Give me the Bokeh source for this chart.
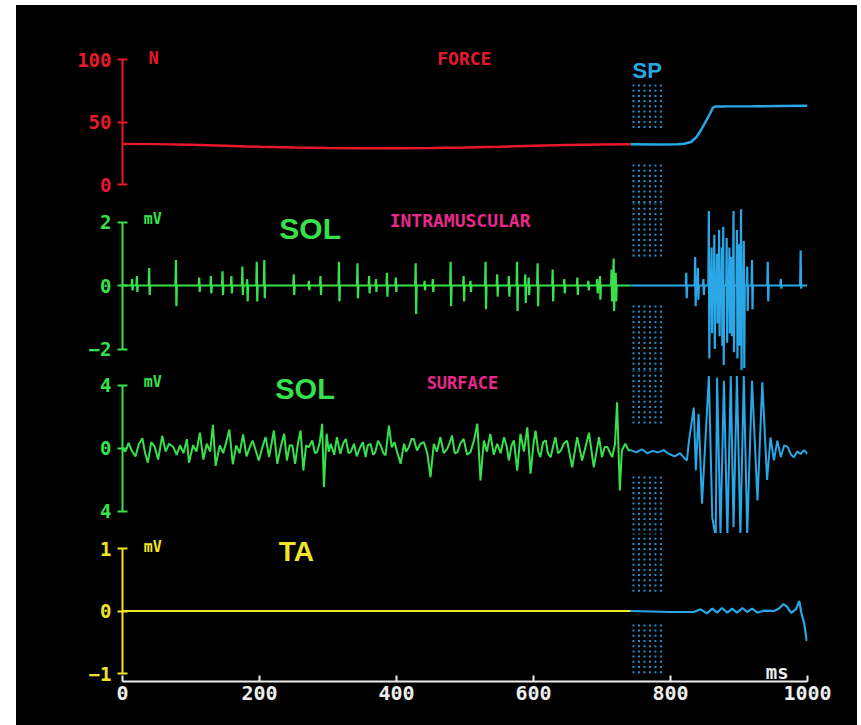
import numpy as np
from bokeh.plotting import figure
from bokeh.models import Range1d, LinearAxis, FixedTicker
from bokeh.layouts import column
from bokeh.core.properties import value
from bokeh.embed import file_html
from bokeh.resources import INLINE

RED = "#e8182c"
GREEN = "#38e04c"
BLUE = "#2aa7e6"
YELLOW = "#f0e428"
PINK = "#e8288c"
WHITE = "#eeeeee"
MONO = "DejaVu Sans Mono"
SANS = "Liberation Sans"

# ---------------- data ----------------
SWITCH_MS = 742            # trace colour changes (stimulus)
SP_BAND = (746, 786)       # dotted "SP" band, ms

X_TICKS = [0, 200, 400, 600, 800, 1000]

# Force (N)
FORCE_PRE_T = [0, 50, 100, 150, 200, 250, 300, 350, 400, 450, 500, 550, 600, 650, 700, 742]
FORCE_PRE_N = [32.5, 32.3, 31.8, 31.0, 30.2, 29.6, 29.2, 29.0, 29.0, 29.2, 29.6, 30.2, 31.0, 31.6, 32.0, 32.2]
FORCE_POST_T = [742, 780, 810, 820, 830, 838, 845, 852, 858, 862, 866, 880, 920, 960, 1000]
FORCE_POST_N = [32.2, 32.0, 32.2, 32.6, 34.0, 38.0, 44.0, 51.0, 57.0, 61.5, 62.5, 62.5, 62.6, 62.8, 63.0]

# SOL intramuscular: spike times (ms), positive and negative peaks (mV)
IM_PRE_T = [14, 21, 39, 78, 112, 129, 146, 159, 175, 182, 196, 207, 250, 272, 289, 316, 343, 360, 370,
            386, 399, 428, 441, 453, 479, 498, 508, 530, 547, 564, 576, 588, 593, 606, 628, 645, 664,
            680, 693, 697, 714, 717, 720]
IM_PRE_UP = [0.2, 0.3, 0.55, 0.8, 0.25, 0.3, 0.45, 0.3, 0.6, 0.2, 0.75, 0.8, 0.35, 0.15, 0.3, 0.75, 0.7,
             0.3, 0.2, 0.4, 0.25, 0.7, 0.15, 0.2, 0.75, 0.3, 0.15, 0.75, 0.35, 0.3, 0.75, 0.35, 0.25,
             0.7, 0.5, 0.2, 0.25, 0.15, 0.2, 0.3, 0.5, 0.85, 0.4]
IM_PRE_DN = [-0.15, -0.2, -0.3, -0.65, -0.2, -0.25, -0.3, -0.25, -0.3, -0.5, -0.5, -0.4, -0.3, -0.15,
             -0.3, -0.5, -0.4, -0.25, -0.2, -0.35, -0.2, -0.9, -0.15, -0.2, -0.65, -0.5, -0.2, -0.75,
             -0.35, -0.35, -0.8, -0.55, -0.3, -0.65, -0.5, -0.25, -0.3, -0.15, -0.25, -0.45, -0.5,
             -0.8, -0.5]
IM_POST_T = [823, 836, 840, 848, 856, 860, 864, 868, 871, 875, 877, 882, 886, 889, 892, 897, 900, 903,
             907, 912, 919, 942, 961, 990]
IM_POST_UP = [0.4, 0.9, 0.55, 0.2, 2.35, 1.2, 1.6, 1.0, 1.75, 1.2, 1.85, 1.5, 1.2, 0.9, 2.35, 1.75, 1.3,
              2.4, 1.4, 0.6, 0.8, 0.75, 0.2, 1.1]
IM_POST_DN = [-0.4, -0.65, -0.45, -0.3, -2.3, -1.5, -2.0, -1.2, -1.6, -1.9, -2.5, -1.8, -1.5, -1.6,
              -2.1, -2.3, -1.9, -2.75, -2.6, -0.8, -0.75, -0.5, -0.1, -0.1]

# SOL surface (mV)
SURF_PRE_T = [0, 4, 9, 13, 19, 24, 29, 33, 37, 42, 47, 52, 58, 63, 68, 74, 79, 84, 89, 94, 97, 103, 108,
              113, 118, 123, 128, 132, 136, 142, 147, 152, 156, 161, 166, 171, 176, 181, 186, 190, 199,
              205, 209, 214, 221, 226, 231, 236, 240, 244, 248, 252, 256, 260, 264, 268, 272, 277, 281,
              284, 288, 291.5, 294, 298, 301, 304, 309, 313, 318, 322, 326, 330, 333, 338, 342, 347,
              351, 355, 358, 362, 366, 369, 373, 377, 381, 384, 389, 393, 397, 401, 406, 411, 414, 418,
              422, 425, 430, 435, 440, 445, 449.6, 454.5, 459, 464, 469, 474, 478, 481, 485, 489, 493,
              498, 503, 508, 513, 518, 522.6, 527.5, 532, 537, 542, 547, 552, 557, 561, 564, 568, 571.4,
              576.3, 581, 586, 591, 595.7, 600, 603, 607, 610, 614, 618, 621, 625, 629, 632, 636, 640,
              644, 649, 656.5, 663.8, 671, 681, 688, 695.6, 700, 704, 708, 712, 715, 719, 722, 726, 729,
              734, 739, 742]
SURF_PRE_V = [0, -0.2, 0.35, -0.1, -0.5, 0.3, 0.65, -0.3, -0.9, 0.4, 0.1, -0.7, 0.8, -0.2, 0.3, 0.1,
              -0.4, 0.2, -0.3, 0.6, -0.9, 0.2, -0.2, 1.0, -0.7, 0.3, -0.2, 1.5, -1.1, 0.2, -0.3, 0.5, 1.2,
              -1.0, 0.2, -0.3, 0.9, -0.5, 0.1, 0.5, -0.76, 0.2, 0.72, -0.55, 1.14, -0.97, 0.1, 0.93,
              -0.76, 0.2, 0.19, -0.97, 0.3, 1.14, -1.4, 0.2, 0.08, 0.51, -0.3, -0.23, 0.4, 1.57, -2.45,
              0.93, -0.2, 0.3, -0.4, 0.72, -0.34, 0.3, 0.61, -0.3, -0.23, 0.3, -0.5, 0.08, 0.4, -0.55,
              0.2, 0.3, -0.4, -0.23, 0.5, 0.19, -0.3, -0.44, 1.46, 0.08, 0.4, -0.23, -0.97, 0.3, -0.2,
              0.08, 0.6, 0.61, -0.13, 0.3, 0.4, -0.3, -1.82, 0.3, -0.2, 0.72, -0.3, -0.02, 0.4, 0.83,
              -0.3, -0.23, 0.3, 0.61, -0.4, -0.23, 0.5, 1.57, -2.03, 0.51, -0.2, 0.93, -0.4, 0.3, -0.3,
              0.72, 0.1, -0.76, 0.2, 0.51, -1.4, 0.93, -0.2, 1.35, -1.6, 0.3, 1.14, -0.2, -0.55, 0.4,
              0.51, -0.3, -0.55, 0.2, 0.72, -0.3, -0.13, 0.3, 0.5, -1.2, 0.72, -0.76, 1.0, -1.2, 0.72,
              -0.55, 0.1, 0.09, -0.3, -0.55, 0.3, 2.94, -2.67, -0.13, 0.3, -0.13, -0.1]
SURF_POST_T = [742, 750, 758, 766, 774, 782, 790, 798, 806, 814, 820, 824, 827, 834, 837, 841, 846, 856,
               861, 866, 868, 873, 878, 883, 888, 892, 897, 902, 907, 912, 919, 927, 934, 941, 946, 951,
               956, 961, 966, 971, 976, 980, 985, 990, 995, 1000]
SURF_POST_V = [-0.1, -0.25, -0.05, -0.3, -0.15, -0.25, -0.1, -0.35, -0.5, -0.3, -0.6, -0.76, 0.5, 2.6,
               -1.4, 2.2, -3.5, 4.6, -4.4, -5.6, 4.5, -5.4, 4.3, -5.6, 4.6, -5.0, 4.6, -5.6, 4.6, -5.4,
               4.3, -3.3, 4.2, -2.0, 0.7, -0.75, 0.5, -0.55, 0.2, 0.1, -0.4, -0.55, -0.2, -0.35, -0.1,
               -0.35]

# TA (mV)
TA_PRE_T = [0, 742]
TA_PRE_V = [0.0, 0.0]
TA_POST_T = [742, 800, 834, 844, 853, 861, 868, 875, 883, 890, 897, 905, 912, 919, 927, 936, 951, 958,
             965, 970, 976, 983, 988, 991, 995, 999]
TA_POST_V = [0.0, -0.016, -0.016, 0.027, -0.037, 0.037, -0.027, 0.048, -0.027, 0.037, -0.027, 0.048,
             -0.016, 0.037, -0.027, 0.005, 0.0, 0.037, 0.11, 0.07, -0.03, 0.027, 0.16, -0.027, -0.19,
             -0.48]


def spike_trace(t0, t1, times, ups, dns):
    xs, ys = [t0], [0.0]
    for t, u, d in zip(times, ups, dns):
        xs += [t - 0.7, t, t + 0.7, t + 1.4]
        ys += [0.0, u, d, 0.0]
    xs.append(t1)
    ys.append(0.0)
    return xs, ys


def make_panel(h, yr, ticks, overrides, color, bounds, bottom=False):
    p = figure(width=841, height=h, x_range=Range1d(0, 1000), y_range=Range1d(*yr),
               x_axis_location=None, y_axis_location=None, toolbar_location=None,
               output_backend="svg", background_fill_color="black", border_fill_color="black",
               outline_line_color=None, min_border_left=106, min_border_right=50,
               min_border_top=0, min_border_bottom=44 if bottom else 0,
               styles={"background-color": "black"})
    p.xgrid.visible = False
    p.ygrid.visible = False
    ax = LinearAxis(ticker=FixedTicker(ticks=ticks), bounds=bounds,
                    axis_line_color=color, axis_line_width=2,
                    major_tick_line_color=color, major_tick_line_width=2,
                    major_tick_in=5, major_tick_out=5, minor_tick_line_color=None,
                    major_label_text_color=color, major_label_text_font=MONO,
                    major_label_text_font_size="19px", major_label_text_font_style="bold",
                    major_label_standoff=6, major_label_overrides=overrides)
    p.add_layout(ax, "left")
    if bottom:
        xa = LinearAxis(ticker=FixedTicker(ticks=X_TICKS), bounds=(0, 1000),
                        axis_line_color=WHITE, axis_line_width=2,
                        major_tick_line_color=WHITE, major_tick_line_width=2,
                        major_tick_in=6, major_tick_out=0, minor_tick_line_color=None,
                        major_label_text_color=WHITE, major_label_text_font=MONO,
                        major_label_text_font_size="20px", major_label_text_font_style="bold",
                        major_label_standoff=4)
        p.add_layout(xa, "below")
    return p


SP_COLS = np.linspace(SP_BAND[0], SP_BAND[1], 6)


def sp_dots(p, bands, px_per_unit):
    xs, ys = [], []
    for hi, lo in bands:
        for y in np.arange(hi, lo, -5.2 / px_per_unit):
            for x in SP_COLS:
                xs.append(x)
                ys.append(y)
    p.scatter(xs, ys, marker="square", size=2, color=BLUE, alpha=0.85, line_color=None)


def label(p, x, y, txt, color, size, font=MONO, bold=False, align="left"):
    p.text(x=[x], y=[y], text=[txt], text_color=color, text_font=value(font),
           text_font_size=size, text_font_style="bold" if bold else "normal",
           text_align=align, text_baseline="middle")


# Panel 1: force   (page y 5..203)
p1 = make_panel(198, (-15.2, 143.2), [0, 50, 100], {}, RED, (0, 100))
sp_dots(p1, [(79.2, 45.6), (15.2, -15.2)], 1.25)
p1.line(FORCE_PRE_T, FORCE_PRE_N, color=RED, line_width=2.5)
p1.line(FORCE_POST_T, FORCE_POST_N, color=BLUE, line_width=2.5)
label(p1, 38, 101.6, "N", RED, "17px", bold=True)
label(p1, 499, 100.8, "FORCE", RED, "18px", bold=True, align="center")
label(p1, 766, 91.2, "SP", BLUE, "22px", font=SANS, bold=True, align="center")

# Panel 2: SOL intramuscular   (page y 203..370)
p2 = make_panel(167, (-2.677, 2.583), [-2, 0, 2], {}, GREEN, (-2, 2))
sp_dots(p2, [(2.58, 0.79), (-0.66, -2.68)], 31.75)
x, y = spike_trace(0, SWITCH_MS, IM_PRE_T, IM_PRE_UP, IM_PRE_DN)
p2.line(x, y, color=GREEN, line_width=2.2)
x, y = spike_trace(SWITCH_MS, 1000, IM_POST_T, IM_POST_UP, IM_POST_DN)
p2.line(x, y, color=BLUE, line_width=2.2)
label(p2, 31, 2.11, "mV", GREEN, "15px", bold=True)
label(p2, 229, 1.8, "SOL", GREEN, "30px", font=SANS, bold=True)
label(p2, 390, 2.05, "INTRAMUSCULAR", PINK, "18px", bold=True)

# Panel 3: SOL surface   (page y 370..533)
p3 = make_panel(163, (-5.397, 4.952), [-4, 0, 4], {-4: "4"}, GREEN, (-4, 4))
sp_dots(p3, [(4.95, 1.59), (-1.84, -5.4)], 15.75)
p3.line(SURF_PRE_T, SURF_PRE_V, color=GREEN, line_width=2)
p3.line(SURF_POST_T, SURF_POST_V, color=BLUE, line_width=2)
label(p3, 31, 4.25, "mV", GREEN, "15px", bold=True)
label(p3, 223, 3.8, "SOL", GREEN, "29px", font=SANS, bold=True)
label(p3, 444, 4.13, "SURFACE", PINK, "17px", bold=True)

# Panel 4: TA   (page y 533..725, frame to 681)
p4 = make_panel(192, (-1.128, 1.240), [-1, 0, 1], {}, YELLOW, (-1, 1), bottom=True)
sp_dots(p4, [(1.24, 0.28), (-0.23, -1.06)], 62.5)
p4.line(TA_PRE_T, TA_PRE_V, color=YELLOW, line_width=2.2)
p4.line(TA_POST_T, TA_POST_V, color=BLUE, line_width=2.2)
label(p4, 31, 1.02, "mV", YELLOW, "15px", bold=True)
label(p4, 228, 0.96, "TA", YELLOW, "28px", font=SANS, bold=True)
label(p4, 939, -0.98, "ms", WHITE, "19px", bold=True)

layout = column(p1, p2, p3, p4,
                styles={"background-color": "black", "margin-top": "5px", "margin-left": "16px"})

open("out.html", "w").write(file_html(layout, INLINE))
